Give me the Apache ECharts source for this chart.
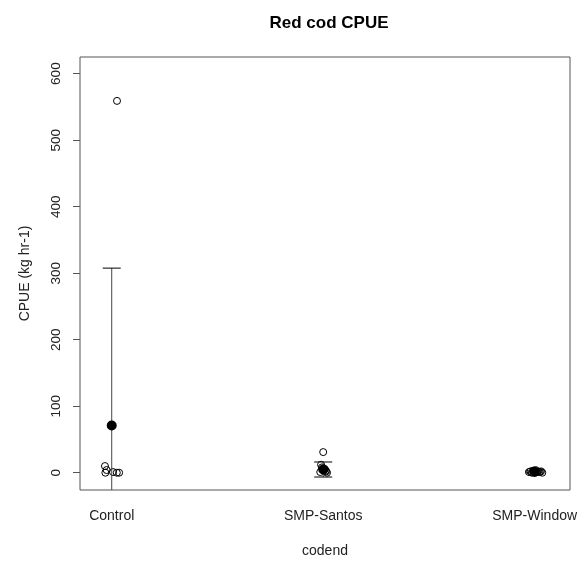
<!DOCTYPE html>
<html>
<head>
<meta charset="utf-8">
<script src="https://cdn.jsdelivr.net/npm/echarts@6/dist/echarts.min.js"></script>
<style>
  html, body { margin: 0; padding: 0; background: #fff; }
  #chart { width: 585px; height: 563px; }
</style>
</head>
<body>
<div id="chart"></div>
<script>
// Red cod catch per unit effort by codend type
const categories = ['Control', 'SMP-Santos', 'SMP-Window'];
const yTicks = [0, 100, 200, 300, 400, 500, 600];

// Individual tows: group index (1-based), small horizontal jitter, CPUE value
const towGroup  = [1, 1, 1, 1, 1, 1, 1,
                   2, 2, 2, 2, 2, 2, 2, 2, 2, 2,
                   3, 3, 3, 3, 3, 3, 3, 3, 3, 3, 3];
const towJitter = [0.025, -0.032, -0.024, -0.030, 0.006, 0.024, 0.035,
                   0.000, -0.010, 0.004, 0.012, 0.018, -0.014, -0.006, 0.008, 0.002, 0.014,
                   -0.003, -0.027, -0.013, 0.016, 0.036, 0.011, -0.020, 0.004, 0.024, -0.008, 0.030];
const towCpue   = [559, 10, 4, 0, 1, 0, 0,
                   31, 12, 6, 3, 0, 1, 8, 5, 4, 2,
                   3, 1, 0, 2, 0, 1, 2, 4, 1, 3, 2];

// Group means and standard deviations
const groupMean = [71, 4.8, 1.2];
const groupSd   = [236.6, 11.3, 1.5];

const towPoints = towCpue.map((v, i) => [towGroup[i] + towJitter[i], v]);
const meanPoints = groupMean.map((m, i) => [i + 1, m]);
const barData = groupMean.map((m, i) => [i + 1, m - groupSd[i], m + groupSd[i]]);

const chart = echarts.init(document.getElementById('chart'), null, { renderer: 'canvas' });

const txt = '#222';
const axisCol = '#555';

chart.setOption({
  animation: false,
  backgroundColor: '#fff',
  textStyle: { fontFamily: '"Liberation Sans", Arial, sans-serif' },
  title: {
    text: 'Red cod CPUE',
    left: 324, top: 10, textAlign: 'center',
    textStyle: { fontSize: 17, fontWeight: 'bold', color: '#000',
                 fontFamily: '"Liberation Sans", Arial, sans-serif' }
  },
  grid: {
    left: 80, right: 15, top: 57, bottom: 72,
    show: true, borderColor: axisCol, borderWidth: 1, backgroundColor: 'transparent'
  },
  xAxis: {
    type: 'value', min: 0.85, max: 3.167,
    name: 'codend', nameLocation: 'middle', nameGap: 54,
    nameTextStyle: { fontSize: 14, color: txt },
    axisLine: { show: false },
    axisTick: { show: false },
    splitLine: { show: false },
    axisLabel: {
      customValues: [1, 2, 3],
      formatter: v => categories[Math.round(v) - 1],
      fontSize: 14, color: txt, margin: 19
    }
  },
  yAxis: {
    type: 'value', min: -26, max: 625,
    name: 'CPUE (kg hr-1)', nameLocation: 'middle', nameGap: 48, nameRotate: 90,
    nameTextStyle: { fontSize: 14, color: txt },
    axisLine: { show: false },
    axisTick: { show: true, customValues: yTicks, length: 7, lineStyle: { color: axisCol } },
    splitLine: { show: false },
    axisLabel: {
      customValues: yTicks, rotate: 90, fontSize: 13.5, color: txt, margin: 17
    }
  },
  series: [
    {
      type: 'scatter',
      data: towPoints,
      symbol: 'circle', symbolSize: 7,
      itemStyle: { color: 'rgba(0,0,0,0)', borderColor: '#000', borderWidth: 1, opacity: 1 },
      z: 2
    },
    {
      type: 'custom',
      data: barData,
      z: 3,
      renderItem: function (params, api) {
        const x = api.value(0);
        const lo = api.coord([x, api.value(1)]);
        const hi = api.coord([x, api.value(2)]);
        const cs = params.coordSys;
        const bottom = cs.y + cs.height;
        const top = cs.y;
        const hw = 9;
        const children = [];
        const yLo = Math.min(lo[1], bottom);
        const yHi = Math.max(hi[1], top);
        children.push({ type: 'line', shape: { x1: hi[0], y1: yHi, x2: lo[0], y2: yLo },
                        style: { stroke: '#444', lineWidth: 1 } });
        if (hi[1] >= top) {
          children.push({ type: 'line', shape: { x1: hi[0] - hw, y1: hi[1], x2: hi[0] + hw, y2: hi[1] },
                          style: { stroke: '#000', lineWidth: 1 } });
        }
        if (lo[1] <= bottom) {
          children.push({ type: 'line', shape: { x1: lo[0] - hw, y1: lo[1], x2: lo[0] + hw, y2: lo[1] },
                          style: { stroke: '#000', lineWidth: 1 } });
        }
        return { type: 'group', children: children };
      }
    },
    {
      type: 'scatter',
      data: meanPoints,
      symbol: 'circle', symbolSize: 10,
      itemStyle: { color: '#000', opacity: 1 },
      z: 4
    }
  ]
});
</script>
</body>
</html>
